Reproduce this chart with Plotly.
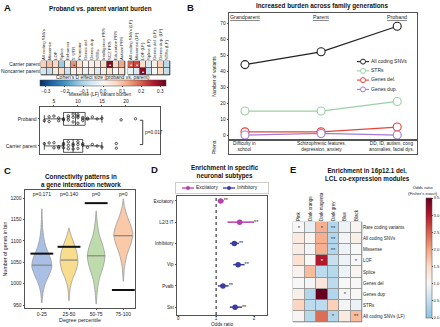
import numpy as np
import plotly.graph_objects as go

W, H = 440, 327
FONT = "Liberation Sans, Arial, sans-serif"
INK = "#222222"
FRAME = "#555555"

def xd(a, b):
    return [a / W, b / W]

def yd(a, b):
    return [1 - b / H, 1 - a / H]

def px(x):
    return x / W

def py(y):
    return 1 - y / H

# ---------------- Panel A data ----------------
a_rows = ["Carrier parent", "Noncarrier parent"]
a_cols_main = ["All coding SNVs", "Missense", "LOF", "Splice", "Enhancer", "5' UTR", "Promoter",
               "Genes del.", "Genes dup.", "STRs", "Intelligence PRS", "SCZ PRS",
               "Education PRS", "Autism PRS"]
a_cols_lf = ["All coding SNVs (LF)", "Missense (LF)", "LOF (LF)", "Splice (LF)",
             "Genes del. (LF)", "Genes dup. (LF)", "STRs (LF)"]
a_main_vals = [
    [0.08, 0.10, 0.07, -0.12, 0.02, 0.15, 0.06, 0.01, 0.02, 0.03, 0.06, 0.30, 0.07, 0.13],
    [-0.06, -0.08, 0.04, 0.06, -0.07, 0.02, 0.03, -0.02, 0.02, -0.04, 0.02, 0.05, 0.00, 0.04],
]
a_lf_vals = [
    [0.20, 0.22, 0.06, -0.05, 0.02, 0.08, -0.09],
    [-0.02, -0.05, 0.30, -0.08, 0.00, 0.06, -0.08],
]
a_main_sig = [
    ["", "", "", "", "", "•", "", "", "", "", "", "•", "", ""],
    ["", "", "", "", "", "", "", "", "", "", "", "", "", ""],
]
a_lf_sig = [
    ["•", "•", "", "", "", "", ""],
    ["", "", "•", "", "", "", ""],
]
a_ticks = [-0.3, -0.2, -0.1, 0.0, 0.1, 0.2, 0.3]
a_ticktext = ["\u22120.3", "\u22120.2", "\u22120.1", "0.0", "0.1", "0.2", "0.3"]

box_groups = ["Proband", "Carrier parent"]
box_proband = [3, 4, 4, 5, 6, 6, 7, 7, 8, 8, 8, 9, 9, 9, 10, 10, 10, 10, 11, 11, 11, 12, 12,
               13, 14, 15, 19, 22]
box_carrier = [3, 4, 5, 5, 6, 6, 7, 7, 7, 8, 8, 8, 9, 9, 9, 10, 10, 10, 11, 11, 12, 13, 14,
               15, 18, 18]
box_pvalue = "p=0.017"

# ---------------- Panel B data ----------------
gens = ["Grandparent", "Parent", "Proband"]
pheno = ["Difficulty in<br>school", "Schizophrenic features,<br>depression, anxiety",
         "DD, ID, autism, cong<br>anomalies, facial dys."]
b_names = ["All coding SNVs", "STRs", "Genes del.", "Genes dup."]
b_all = [44, 52, 68]
b_strs = [15, 15, 21]
b_del = [2, 2, 5]
b_dup = [0, 1, 0]
b_colors = ["#222222", "#9ccfa6", "#e8443a", "#a57bd0"]

# ---------------- Panel C data ----------------
c_bins = ["0-25", "25-50", "50-75", "75-100"]
c_medians = [1043, 1055, 1065, 1112]
c_observed = [1070, 1086, 1188, 985]
c_pvals = ["p=0.171", "p=0.140", "p=0", "p=0"]
c_dens_y = [
    [955, 980, 1000, 1020, 1040, 1060, 1080, 1100, 1125, 1150, 1175],
    [960, 990, 1010, 1030, 1050, 1070, 1090, 1110, 1130],
    [952, 980, 1010, 1040, 1065, 1090, 1115, 1140, 1170],
    [1005, 1040, 1070, 1095, 1115, 1135, 1160, 1180, 1198],
]
c_dens_w = [
    [0.0, 0.12, 0.35, 0.72, 1.0, 0.85, 0.5, 0.25, 0.1, 0.04, 0.0],
    [0.0, 0.12, 0.35, 0.7, 0.88, 0.8, 0.55, 0.25, 0.0],
    [0.0, 0.1, 0.3, 0.7, 0.88, 0.65, 0.3, 0.12, 0.0],
    [0.0, 0.12, 0.4, 0.78, 0.95, 0.75, 0.35, 0.12, 0.0],
]
c_colors = ["#aabfe4", "#f8dd8e", "#bedcab", "#f9c9a8"]

# ---------------- Panel D data ----------------
d_cells = ["Excitatory", "L2/3 IT", "Inhibitory", "Vip", "Pvalb", "Sst"]
d_class = ["Excitatory", "Excitatory", "Inhibitory", "Inhibitory", "Inhibitory", "Inhibitory"]
d_or = [1.12, 1.62, 1.48, 1.58, 1.18, 1.50]
d_lo = [1.04, 1.30, 1.37, 1.45, 1.05, 1.36]
d_hi = [1.20, 2.00, 1.60, 1.75, 1.33, 1.68]
d_sig = ["**", "**", "**", "**", "**", "**"]
d_groups = ["Excitatory", "Inhibitory"]
d_colors = ["#b540ad", "#3a3d9e"]

# ---------------- Panel E data ----------------
e_rows = ["Rare coding variants", "All coding SNVs", "Missense", "LOF", "Splice", "Genes del",
          "Genes dup", "STRs", "All coding SNVs (LF)"]
e_cols = ["Pink", "Dark orange", "Dark magenta", "Dark grey", "Blue", "Black"]
e_vals = [
    [1.00, 0.85, 1.90, 0.35, 0.90, 1.05],
    [1.25, 1.05, 1.90, 0.35, 0.95, 1.15],
    [1.20, 0.95, 1.90, 0.35, 0.90, 1.00],
    [1.40, 1.00, 3.00, 0.55, 0.90, 1.00],
    [1.10, 1.80, 0.45, 0.40, 0.90, 1.05],
    [1.00, 0.95, 1.30, 0.45, 1.00, 1.00],
    [1.15, 0.35, 3.50, 0.35, 0.95, 1.00],
    [1.55, 0.45, 0.45, 1.60, 0.95, 0.90],
    [1.05, 0.40, 2.40, 0.35, 1.25, 1.80],
]
e_sig = [
    ["*", "", "*", "**", "", ""],
    ["", "", "", "**", "", ""],
    ["", "", "", "**", "", ""],
    ["", "", "*", "", "", "*"],
    ["", "", "", "", "", ""],
    ["", "", "", "", "", ""],
    ["", "", "", "", "*", ""],
    ["", "", "", "", "", ""],
    ["", "", "", "*", "", "**"],
]
e_ticks = [0.0, 0.5, 1.0, 1.5, 2.0, 2.5, 3.0, 3.5]

# ---------------- Figure ----------------
fig = go.Figure()
NOLEG = dict(showlegend=False, hoverinfo="skip")

# A heatmaps
fig.add_trace(go.Heatmap(z=a_main_vals, x=a_cols_main, y=a_rows, coloraxis="coloraxis",
                         text=a_main_sig, texttemplate="%{text}", textfont=dict(size=6),
                         xgap=0.7, ygap=0.7, xaxis="x", yaxis="y", hoverinfo="skip"))
fig.add_trace(go.Heatmap(z=a_lf_vals, x=a_cols_lf, y=a_rows, coloraxis="coloraxis",
                         text=a_lf_sig, texttemplate="%{text}", textfont=dict(size=6),
                         xgap=0.7, ygap=0.7, xaxis="x2", yaxis="y2", hoverinfo="skip"))

# A box plot
box_x = box_proband + box_carrier
box_y = [box_groups[0]] * len(box_proband) + [box_groups[1]] * len(box_carrier)
fig.add_trace(go.Box(x=box_x, y=box_y, orientation="h", boxpoints="all", jitter=0.75,
                     pointpos=0, fillcolor="rgba(0,0,0,0)", line=dict(color="#111", width=0.7),
                     marker=dict(color="#111", size=2.4, symbol="circle-open",
                                 line=dict(width=0.7, color="#111")),
                     whiskerwidth=0.6, xaxis="x3", yaxis="y3", **NOLEG))

# B lines
for name, vals, col in zip(b_names, [b_all, b_strs, b_del, b_dup], b_colors):
    fig.add_trace(go.Scatter(x=[0, 1, 2], y=vals, mode="lines+markers", name=name,
                             line=dict(color=col, width=1.2),
                             marker=dict(size=8, color="white", line=dict(color=col, width=1.1)),
                             xaxis="x4", yaxis="y4", **NOLEG))
# B legend (drawn in its own small axes)
for i, (name, col) in enumerate(zip(b_names, b_colors)):
    fig.add_trace(go.Scatter(x=[2, 14], y=[i, i], mode="lines", line=dict(color=col, width=1.1),
                             xaxis="x9", yaxis="y9", **NOLEG))
    fig.add_trace(go.Scatter(x=[8], y=[i], mode="markers",
                             marker=dict(size=5, color="white", line=dict(color=col, width=1)),
                             xaxis="x9", yaxis="y9", **NOLEG))
    fig.add_trace(go.Scatter(x=[16], y=[i], mode="text", text=[name], textposition="middle right",
                             textfont=dict(size=5, color=INK), xaxis="x9", yaxis="y9", **NOLEG))

# C violins
for i, (ys, ws, col) in enumerate(zip(c_dens_y, c_dens_w, c_colors)):
    ys = np.array(ys, dtype=float)
    ws = np.array(ws, dtype=float) * 0.37
    xs = np.concatenate([i + ws, (i - ws)[::-1]])
    yy = np.concatenate([ys, ys[::-1]])
    fig.add_trace(go.Scatter(x=xs, y=yy, mode="lines", fill="toself", fillcolor=col,
                             line=dict(color="#9a9a9a", width=0.8, shape="spline", smoothing=0.8),
                             xaxis="x6", yaxis="y6", **NOLEG))
    hw = float(np.interp(c_medians[i], ys, ws))
    fig.add_trace(go.Scatter(x=[i - hw, i + hw], y=[c_medians[i]] * 2, mode="lines",
                             line=dict(color="#8a8a8a", width=1.3),
                             xaxis="x6", yaxis="y6", **NOLEG))
    fig.add_trace(go.Scatter(x=[i - 0.42, i + 0.42], y=[c_observed[i]] * 2, mode="lines",
                             line=dict(color="#111", width=2),
                             xaxis="x6", yaxis="y6", **NOLEG))
    fig.add_trace(go.Scatter(x=[i], y=[1207], mode="text", text=[c_pvals[i]],
                             textfont=dict(size=5, color=INK),
                             xaxis="x6", yaxis="y6", **NOLEG))

# D forest
for cls, col in zip(d_groups, d_colors):
    idx = [k for k, c in enumerate(d_class) if c == cls]
    fig.add_trace(go.Scatter(
        x=[d_or[k] for k in idx], y=[d_cells[k] for k in idx], mode="markers",
        marker=dict(color=col, size=5.5),
        error_x=dict(type="data", symmetric=False,
                     array=[d_hi[k] - d_or[k] for k in idx],
                     arrayminus=[d_or[k] - d_lo[k] for k in idx],
                     color=col, thickness=1.5, width=0),
        xaxis="x7", yaxis="y7", **NOLEG))
fig.add_trace(go.Scatter(x=d_hi, y=d_cells, mode="text", text=d_sig, textposition="middle right",
                         textfont=dict(size=5.5, color=INK), xaxis="x7", yaxis="y7", **NOLEG))
# D legend (own small axes)
for j, (cls, col) in enumerate(zip(d_groups, d_colors)):
    x0 = 182 + 41 * j
    fig.add_trace(go.Scatter(x=[x0, x0 + 12], y=[0.5, 0.5], mode="lines",
                             line=dict(color=col, width=1.3), xaxis="x10", yaxis="y10", **NOLEG))
    fig.add_trace(go.Scatter(x=[x0 + 6], y=[0.5], mode="markers", marker=dict(color=col, size=4),
                             xaxis="x10", yaxis="y10", **NOLEG))
    fig.add_trace(go.Scatter(x=[x0 + 14], y=[0.5], mode="text", text=[cls],
                             textposition="middle right", textfont=dict(size=5, color=INK),
                             xaxis="x10", yaxis="y10", **NOLEG))

# E heatmap
fig.add_trace(go.Heatmap(z=e_vals, x=e_cols, y=e_rows, coloraxis="coloraxis2",
                         text=e_sig, texttemplate="%{text}", textfont=dict(size=6),
                         xgap=0.8, ygap=0.8, xaxis="x8", yaxis="y8", hoverinfo="skip"))

# ---------------- Axes ----------------
def tick(size=5, ticklen=1.5):
    return dict(ticks="outside", ticklen=ticklen, tickwidth=0.6, tickcolor=FRAME,
                tickfont=dict(size=size, color=INK))

frame = dict(showline=True, mirror=True, linecolor=FRAME, linewidth=0.8, showgrid=False,
             zeroline=False)
blank = dict(showline=False, showgrid=False, zeroline=False, showticklabels=False, ticks="")

layout = dict(
    width=W, height=H, margin=dict(l=0, r=0, t=0, b=0, autoexpand=False),
    paper_bgcolor="white", plot_bgcolor="white",
    font=dict(family=FONT, size=5, color=INK),
    showlegend=False, boxgap=0.32,
    # A heatmap left
    xaxis=dict(domain=xd(41, 125), anchor="y", side="top", tickangle=-90, type="category",
               showgrid=False, zeroline=False, ticks="", tickfont=dict(size=4.3)),
    yaxis=dict(domain=yd(61, 75), anchor="x", autorange="reversed", showgrid=False,
               zeroline=False, ticks="", tickfont=dict(size=5)),
    # A heatmap right
    xaxis2=dict(domain=xd(128, 170), anchor="y2", side="top", tickangle=-90, type="category",
                showgrid=False, zeroline=False, ticks="", tickfont=dict(size=4.3)),
    yaxis2=dict(domain=yd(61, 75), anchor="x2", autorange="reversed", showgrid=False,
                zeroline=False, showticklabels=False),
    # A box
    xaxis3=dict(domain=xd(40, 160), anchor="y3", side="top", range=[2.1, 27.1],
                tickvals=[5, 10, 15, 20],
                title=dict(text="Missense (LF) variant burden", font=dict(size=4.8), standoff=0),
                **tick(5), **frame),
    yaxis3=dict(domain=yd(107, 154), anchor="x3", type="category",
                categoryorder="array", categoryarray=box_groups, range=[1.3, -0.44],
                **tick(5), **frame),
    # B main
    xaxis4=dict(domain=xd(229, 417), anchor="y4", range=[-0.21, 2.26], showticklabels=False,
                ticks="", **frame),
    yaxis4=dict(domain=yd(13, 140), anchor="x4", range=[-3.1, 76.25], dtick=10,
                title=dict(text="Number of variants", font=dict(size=4.8), standoff=3),
                **tick(4.8), **frame),
    # B pheno
    xaxis5=dict(domain=xd(229, 417), anchor="y5", range=[-0.21, 2.26], showticklabels=False,
                ticks="", **frame),
    yaxis5=dict(domain=yd(140, 154), anchor="x5", range=[0, 1], showticklabels=False,
                ticks="", title=dict(text="Pheno.", font=dict(size=4.8), standoff=11), **frame),
    # C
    xaxis6=dict(domain=xd(25, 135), anchor="y6", range=[-0.62, 3.43], tickvals=[0, 1, 2, 3],
                ticktext=c_bins,
                title=dict(text="Degree percentile", font=dict(size=5.3), standoff=0),
                **tick(5), **frame),
    yaxis6=dict(domain=yd(190, 308), anchor="x6", range=[943, 1218.7], dtick=50,
                title=dict(text="Number of genes in bin", font=dict(size=5.3), standoff=2),
                **tick(5), **frame),
    # D (x-axis title is placed as an annotation below)
    xaxis7=dict(domain=xd(177, 267), anchor="y7", range=[-0.03, 2.34], tickvals=[0, 1, 2],
                ticklabelstandoff=-2, **tick(4.5, 1), **frame),
    yaxis7=dict(domain=yd(196, 315), anchor="x7", type="category", categoryorder="array",
                categoryarray=d_cells, range=[5.37, -0.23], **tick(4.6), **frame),
    # E
    xaxis8=dict(domain=xd(293, 362), anchor="y8", side="top", tickangle=-90, type="category",
                showgrid=False, zeroline=False, ticks="", tickfont=dict(size=4.5)),
    yaxis8=dict(domain=yd(222, 322), anchor="x8", side="right", autorange="reversed",
                showgrid=False, zeroline=False, ticks="", tickfont=dict(size=4.5)),
    # B legend axes
    xaxis9=dict(domain=xd(355, 417), anchor="y9", range=[0, 62], **blank),
    yaxis9=dict(domain=yd(57, 94), anchor="x9", range=[3.5, -0.5], **blank),
    # D legend axes
    xaxis10=dict(domain=xd(176, 268), anchor="y10", range=[176, 268], showline=True,
                 mirror=True, linecolor="#cccccc", linewidth=0.6, showgrid=False,
                 zeroline=False, showticklabels=False, ticks=""),
    yaxis10=dict(domain=yd(183, 193), anchor="x10", range=[0, 1], showline=True, mirror=True,
                 linecolor="#cccccc", linewidth=0.6, showgrid=False, zeroline=False,
                 showticklabels=False, ticks=""),
    coloraxis=dict(
        cmin=-0.33, cmax=0.33,
        colorscale=[[0.0, "#053061"], [0.1, "#2166ac"], [0.2, "#4393c3"], [0.3, "#92c5de"],
                    [0.4, "#d1e5f0"], [0.5, "#f7f7f7"], [0.6, "#fddbc7"], [0.7, "#f4a582"],
                    [0.8, "#d6604d"], [0.9, "#b2182b"], [1.0, "#67001f"]],
        colorbar=dict(orientation="h", x=px(103), xanchor="center", y=py(80), yanchor="top",
                      lenmode="pixels", len=126, thickness=6, xpad=0, ypad=0,
                      outlinewidth=0.5, outlinecolor="#444",
                      tickvals=a_ticks, ticktext=a_ticktext, ticks="outside", ticklen=1.5,
                      tickfont=dict(size=4.6, color=INK))),
    coloraxis2=dict(
        cmin=0, cmax=3.5,
        colorscale=[[0.0, "#8cc3e2"], [0.143, "#c2deef"], [0.286, "#f7f7f7"], [0.43, "#fddbc7"],
                    [0.571, "#f4a582"], [0.714, "#d6604d"], [0.857, "#b2182b"], [1.0, "#67001f"]],
        colorbar=dict(x=px(426), xanchor="left", y=py(198), yanchor="top",
                      lenmode="pixels", len=120, thickness=6, xpad=0, ypad=0,
                      outlinewidth=0.5, outlinecolor="#444",
                      tickvals=e_ticks, ticktext=[f"{v:.1f}" for v in e_ticks],
                      ticks="outside", ticklen=1, tickfont=dict(size=4.2, color=INK))),
)
fig.update_layout(**layout)

# heatmap cell borders (drawn beneath the cells)
shapes = []
for xr, yr, colr in [("x", "y", "#3a3a3a"), ("x2", "y2", "#3a3a3a"), ("x8", "y8", "#8a8a8a")]:
    shapes.append(dict(type="rect", xref=f"{xr} domain", yref=f"{yr} domain", x0=0, x1=1,
                       y0=0, y1=1, fillcolor=colr, line=dict(width=0.6, color=colr),
                       layer="below"))
# D reference line at odds ratio 1
shapes.append(dict(type="line", xref="x7", yref="y7 domain", x0=1, x1=1, y0=0, y1=1,
                   line=dict(color="#111", width=1, dash="dot")))
# A p-value bracket
shapes.append(dict(type="path", xref="x3", yref="y3",
                   path="M 22.9,0.05 L 23.5,0.05 L 23.5,0.95 L 22.9,0.95",
                   line=dict(color="#111", width=0.8)))
fig.update_layout(shapes=shapes)

ann = []
def letter(t, x, y):
    ann.append(dict(text=f"<b>{t}</b>", x=px(x), y=py(y), xref="paper", yref="paper",
                    xanchor="left", yanchor="top", showarrow=False, font=dict(size=9.5, color="#111")))

def title(t, x, y, size=6.3):
    ann.append(dict(text=f"<b>{t}</b>", x=px(x), y=py(y), xref="paper", yref="paper",
                    xanchor="center", yanchor="middle", showarrow=False,
                    font=dict(size=size, color="#111")))

letter("A", 2, 0)
letter("B", 185, 0)
letter("C", 2, 163)
letter("D", 149, 162)
letter("E", 288, 162)
title("Proband vs. parent variant burden", 100, 9)
title("Increased burden across family generations", 322, 6)
title("Connectivity patterns in<br>a gene interaction network", 81, 181)
title("Enrichment in specific<br>neuronal subtypes", 225, 172)
title("Enrichment in 16p12.1 del.<br>LCL co-expression modules", 367, 175)

ann.append(dict(text="Cohen's D effect size (proband vs. parent)", x=px(103), y=py(77),
                xref="paper", yref="paper", showarrow=False, font=dict(size=5),
                xanchor="center", yanchor="middle"))
ann.append(dict(text="Odds ratio<br>(Fisher's exact)", x=px(423), y=py(190), xref="paper",
                yref="paper", showarrow=False, font=dict(size=4.3), xanchor="center",
                yanchor="middle"))
ann.append(dict(text="Odds ratio", x=px(222), y=py(324.5), xref="paper", yref="paper",
                showarrow=False, font=dict(size=4.8), xanchor="center", yanchor="middle"))
ann.append(dict(text=box_pvalue, x=23.6, y=0.5, xref="x3", yref="y3", showarrow=False,
                xanchor="left", font=dict(size=4.8)))
for i, g in enumerate(gens):
    ann.append(dict(text=f"<u>{g}</u>", x=i, y=73.8, xref="x4", yref="y4", showarrow=False,
                    font=dict(size=5.3), xanchor="center", yanchor="middle"))
for i, p in enumerate(pheno):
    ann.append(dict(text=p, x=i, y=0.5, xref="x5", yref="y5", showarrow=False,
                    font=dict(size=4.7), xanchor="center", yanchor="middle",
                    xshift=-6 if i == 2 else 0))
fig.update_layout(annotations=ann)

fig.write_html("out.html", config={"displayModeBar": False},
               post_script="document.body.style.margin='0px';document.body.style.overflow='hidden';")
